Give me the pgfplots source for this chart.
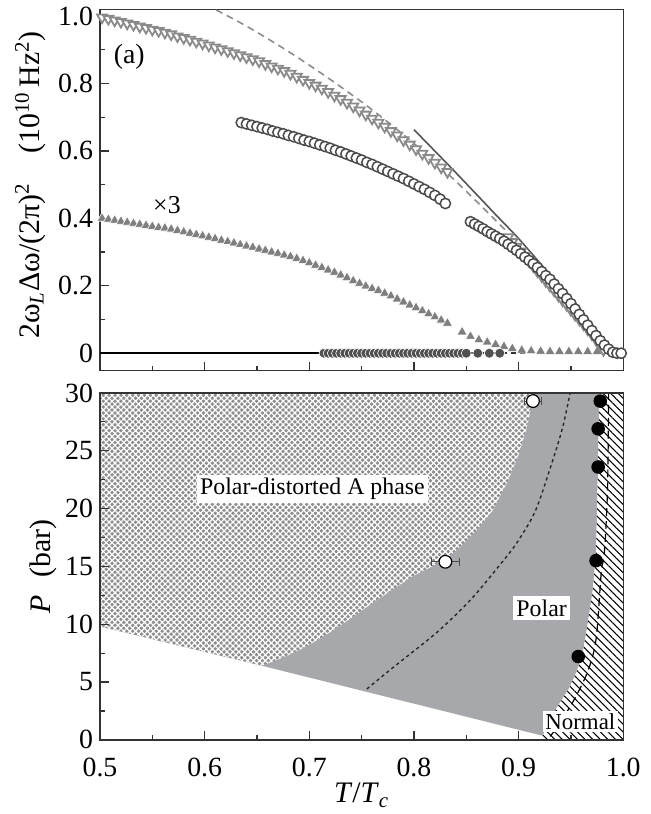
\documentclass[border=0pt]{standalone}
\usepackage{pgfplots}
\pgfplotsset{compat=1.18}
\usepackage{fontspec}
\setmainfont{Liberation Serif}
\usetikzlibrary{patterns,patterns.meta}

\definecolor{trig}{HTML}{8A8A8A}
\definecolor{circ}{HTML}{4A4A4A}
\definecolor{fitl}{HTML}{555555}
\definecolor{dashg}{HTML}{8C8C8C}
\definecolor{ftri}{HTML}{7F7F7F}
\definecolor{dcirc}{HTML}{505050}
\definecolor{polar}{HTML}{A7A8AB}
\definecolor{hatchbase}{HTML}{8E8E8E}

\pgfplotsset{
  phase/.style={
    scale only axis, width=263.5pt,
    xmin=0.5, xmax=1.0,
    xtick={0.5,0.6,0.7,0.8,0.9,1.0},
    minor x tick num=1,
    tick align=inside,
    xtick pos=left, ytick pos=left,
    major tick length=4.5pt, minor tick length=2.5pt,
    axis line style={line width=0.7pt, black!80},
    every tick/.style={black!80, line width=0.6pt},
    tick label style={font=\fontsize{14}{16}\selectfont},
    xticklabel style={yshift=-5.5pt},
    /pgf/number format/assume math mode=true,
  }
}

\begin{document}
\begin{tikzpicture}

% ---------- bottom: phase diagram ----------
\begin{axis}[phase,
    name=bot, at={(0,0)}, anchor=south west,
    height=174.65pt,
    ymin=0, ymax=30,
    ytick={0,5,10,15,20,25,30},
    minor y tick num=1,
    xticklabels={0.5,0.6,0.7,0.8,0.9,1.0},
    axis on top,
    xlabel={\textit{T}/\textit{T}\textsubscript{\textit{c}}},
    ylabel={\textit{P}\hspace{0.6em}(bar)},
    xlabel style={at={(axis description cs:0.5,-0.16)}, anchor=center,
      font=\fontsize{15}{17}\selectfont},
    ylabel style={at={(axis description cs:-0.108,0.5)}, rotate=0, anchor=center,
      font=\fontsize{15}{17}\selectfont},
  ]
  % polar-distorted A phase (crosshatch)
  \addplot[draw=none, fill=hatchbase,
      postaction={pattern={Hatch[angle=45,distance=2.1pt,line width=0.6pt]}, pattern color=white}]
    coordinates {(0.5,30) (0.5,9.8) (0.655,6.4) (0.68,7.3) (0.70,8.2) (0.72,9.3)
      (0.74,10.5) (0.76,11.8) (0.78,13.0) (0.80,14.2) (0.82,15.1) (0.83,15.6)
      (0.84,16.3) (0.86,18.1) (0.875,19.8) (0.89,22.4) (0.90,24.6) (0.908,27.0)
      (0.915,30)} -- cycle;
  % polar phase
  \addplot[draw=none, fill=polar]
    coordinates {(0.655,6.4) (0.68,7.3) (0.70,8.2) (0.72,9.3)
      (0.74,10.5) (0.76,11.8) (0.78,13.0) (0.80,14.2) (0.82,15.1) (0.83,15.6)
      (0.84,16.3) (0.86,18.1) (0.875,19.8) (0.89,22.4) (0.90,24.6) (0.908,27.0)
      (0.915,30) (0.977,30) (0.976,24.0) (0.974,16.2) (0.971,13.0) (0.966,10.0)
      (0.961,7.3) (0.955,5.8) (0.948,4.4) (0.936,2.7) (0.923,0.35)} -- cycle;
  % normal phase (hatched)
  \addplot[draw=none, fill=white,
      postaction={pattern={Lines[angle=-45,distance=2.7pt,line width=0.55pt]}, pattern color=black}]
    coordinates {(0.923,0) (0.923,0.35) (0.936,2.7) (0.948,4.4) (0.955,5.8)
      (0.961,7.3) (0.966,10.0) (0.971,13.0) (0.974,16.2) (0.976,24.0) (0.977,30)
      (1.0,30) (1.0,0)} -- cycle;
  % dashed line in normal phase
  \addplot[black, line width=0.6pt, dash pattern=on 4pt off 2.5pt, smooth]
    coordinates {(0.930,0.3) (0.936,1.0) (0.952,3.3) (0.966,5.9) (0.974,8.7)
      (0.979,14.5) (0.982,16.2) (0.985,21.8) (0.986,30)};
  % dashed line in polar phase
  \addplot[black!85, line width=0.7pt, dash pattern=on 1.6pt off 1.6pt, smooth]
    coordinates {(0.755,4.4) (0.782,6.4) (0.822,9.3) (0.854,12.1) (0.88,14.9)
      (0.898,17.0) (0.916,19.8) (0.932,24.0) (0.942,27.0) (0.949,29.9)};
  % PdA-polar transition points
  \addplot[only marks, mark=*, mark size=3.2pt,
      mark options={fill=white, draw=black, line width=0.6pt},
      error bars/.cd, x dir=both, x explicit,
      error bar style={black!70, line width=0.5pt},
      error mark options={rotate=90, mark size=2pt, black!70}]
    coordinates {(0.830,15.4) +- (0.013,0) (0.9137,29.3) +- (0.008,0)};
  % normal-polar transition points
  \addplot[only marks, mark=*, mark size=3.2pt, mark options={fill=black, draw=black}]
    coordinates {(0.978,29.3) (0.976,26.9) (0.976,23.6) (0.974,15.5) (0.957,7.2)};

  \node[fill=white, inner sep=1.6pt, font=\fontsize{12}{14}\selectfont]
    at (axis cs:0.703,21.7) {Polar-distorted A phase};
  \node[fill=white, inner sep=1.6pt, font=\fontsize{12}{14}\selectfont]
    at (axis cs:0.922,11.4) {Polar};
  \node[fill=white, inner sep=1.2pt, font=\fontsize{11.5}{13}\selectfont]
    at (axis cs:0.959,1.55) {Normal};
\end{axis}

% ---------- top: frequency shift ----------
\begin{axis}[phase,
    at={(0,185.85pt)}, anchor=south west,
    height=182pt,
    ymin=-0.052, ymax=1.02,
    ytick={0,0.2,0.4,0.6,0.8,1.0},
    yticklabels={0,0.2,0.4,0.6,0.8,1.0},
    minor y tick num=1,
    xticklabels={},
    ylabel={2ω\textsubscript{\textit{L}}Δω/(2π)\textsuperscript{2}\hspace{1em}(10\textsuperscript{10}\,Hz\textsuperscript{2})},
    ylabel style={at={(axis description cs:-0.133,0.514)}, rotate=0, anchor=center,
      font=\fontsize{15}{17}\selectfont},
  ]
  % zero line
  \addplot[black, line width=1.2pt] coordinates {(0.5,0) (0.712,0)};
  \addplot[black!80, line width=1pt, dash pattern=on 3pt off 2pt] coordinates {(0.712,0) (0.906,0)};

  % dashed gray guide
  \addplot[dashg, line width=0.8pt, dash pattern=on 3.5pt off 2.5pt, smooth]
    coordinates {(0.611,1.018) (0.640,0.970) (0.680,0.895) (0.720,0.812)
      (0.760,0.722) (0.800,0.622) (0.840,0.510) (0.880,0.388) (0.890,0.356)};

  % filled gray triangles (x3)
  \addplot[only marks, mark=triangle*, mark size=2.9pt,
      mark options={fill=ftri, draw=white, line width=0.3pt}]
    coordinates {
      (0.502,0.400) (0.508,0.397) (0.514,0.394) (0.520,0.391) (0.526,0.388)
      (0.532,0.385) (0.538,0.382) (0.544,0.379) (0.550,0.376) (0.556,0.373)
      (0.562,0.371) (0.568,0.368) (0.574,0.364) (0.580,0.360) (0.586,0.356)
      (0.592,0.352) (0.598,0.348) (0.604,0.344) (0.610,0.340) (0.616,0.335)
      (0.622,0.331) (0.628,0.327) (0.634,0.322) (0.640,0.318) (0.646,0.314)
      (0.652,0.309) (0.658,0.305) (0.664,0.300) (0.670,0.296) (0.676,0.291)
      (0.682,0.287) (0.688,0.281) (0.694,0.275) (0.700,0.268) (0.706,0.261)
      (0.712,0.254) (0.718,0.247) (0.724,0.240) (0.730,0.232) (0.736,0.224)
      (0.742,0.215) (0.748,0.207) (0.754,0.199) (0.760,0.192) (0.766,0.186)
      (0.772,0.178) (0.778,0.170) (0.784,0.161) (0.790,0.152) (0.796,0.143)
      (0.802,0.135) (0.808,0.126) (0.814,0.117) (0.820,0.108) (0.826,0.098)
      (0.832,0.089)
      (0.846,0.063) (0.854,0.050) (0.862,0.040) (0.870,0.033) (0.878,0.026)
      (0.886,0.020) (0.894,0.014) (0.903,0.009) (0.912,0.007) (0.921,0.006)
      (0.930,0.005) (0.939,0.005) (0.948,0.005) (0.957,0.005) (0.966,0.005)
      (0.975,0.005)};

  % dark filled circles on zero
  \addplot[only marks, mark=*, mark size=2.5pt,
      mark options={fill=dcirc, draw=white, line width=0.3pt}]
    coordinates {
      (0.714,0) (0.718,0) (0.722,0) (0.726,0) (0.730,0) (0.734,0) (0.738,0)
      (0.742,0) (0.746,0) (0.750,0) (0.754,0) (0.758,0) (0.762,0) (0.766,0)
      (0.770,0) (0.774,0) (0.778,0) (0.782,0) (0.786,0) (0.790,0) (0.794,0)
      (0.798,0) (0.802,0) (0.806,0) (0.810,0) (0.814,0) (0.818,0) (0.822,0)
      (0.826,0) (0.830,0) (0.834,0) (0.838,0) (0.842,0) (0.846,0) (0.850,0)
      (0.861,0) (0.872,0) (0.882,0)};

  % open triangles
  \addplot[only marks, mark=triangle*, mark size=2.9pt,
      mark options={rotate=180, fill=white, draw=trig, line width=0.9pt}]
    coordinates {
      (0.502,0.996) (0.508,0.992) (0.514,0.987) (0.520,0.983) (0.526,0.978)
      (0.532,0.974) (0.538,0.969) (0.544,0.965) (0.550,0.960) (0.556,0.956)
      (0.562,0.951) (0.568,0.946) (0.574,0.940) (0.580,0.935) (0.586,0.930)
      (0.592,0.924) (0.598,0.919) (0.604,0.913) (0.610,0.907) (0.616,0.902)
      (0.622,0.896) (0.628,0.890) (0.634,0.884) (0.640,0.878) (0.646,0.872)
      (0.652,0.866) (0.658,0.858) (0.664,0.851) (0.670,0.844) (0.676,0.837)
      (0.682,0.829) (0.688,0.820) (0.694,0.811) (0.700,0.802) (0.706,0.794)
      (0.712,0.785) (0.718,0.775) (0.724,0.764) (0.730,0.754) (0.736,0.743)
      (0.742,0.732) (0.748,0.720) (0.754,0.708) (0.760,0.696) (0.766,0.684)
      (0.772,0.672) (0.778,0.659) (0.784,0.646) (0.790,0.632) (0.796,0.619)
      (0.802,0.605) (0.808,0.592) (0.814,0.579) (0.820,0.565) (0.826,0.551)
      (0.832,0.538)};
  \addplot[only marks, mark=triangle*, mark size=2.9pt,
      mark options={rotate=180, fill=white, draw=trig, line width=0.9pt}]
    coordinates {
      (0.890,0.344) (0.894,0.330) (0.898,0.316) (0.902,0.302) (0.906,0.288)
      (0.910,0.273) (0.914,0.258) (0.918,0.243) (0.922,0.229) (0.926,0.214)
      (0.930,0.200) (0.934,0.186) (0.938,0.171) (0.942,0.157) (0.946,0.143)
      (0.950,0.128) (0.954,0.114) (0.958,0.100) (0.962,0.086) (0.966,0.071)
      (0.970,0.056) (0.974,0.040) (0.978,0.022) (0.981,0.010)};

  % open circles
  \addplot[only marks, mark=*, mark size=2.6pt,
      mark options={fill=white, draw=circ, line width=0.75pt}]
    coordinates {
      (0.635,0.684) (0.640,0.680) (0.645,0.676) (0.650,0.672) (0.655,0.668)
      (0.660,0.664) (0.665,0.659) (0.670,0.655) (0.675,0.651) (0.680,0.646)
      (0.685,0.642) (0.690,0.637) (0.695,0.632) (0.700,0.628) (0.705,0.623)
      (0.710,0.618) (0.715,0.613) (0.720,0.608) (0.725,0.602) (0.730,0.597)
      (0.735,0.591) (0.740,0.585) (0.745,0.579) (0.750,0.573) (0.755,0.566)
      (0.760,0.560) (0.765,0.553) (0.770,0.546) (0.775,0.539) (0.780,0.532)
      (0.785,0.525) (0.790,0.518) (0.795,0.510) (0.800,0.502) (0.805,0.494)
      (0.810,0.486) (0.815,0.477) (0.820,0.468) (0.825,0.457) (0.830,0.444)};
  \addplot[only marks, mark=*, mark size=2.6pt,
      mark options={fill=white, draw=circ, line width=0.75pt}]
    coordinates {
      (0.854,0.390) (0.858,0.383) (0.862,0.376) (0.866,0.369) (0.870,0.361)
      (0.874,0.354) (0.878,0.347) (0.882,0.340) (0.886,0.332) (0.890,0.323)
      (0.894,0.314) (0.898,0.305) (0.902,0.295) (0.906,0.285) (0.910,0.275)
      (0.914,0.265) (0.918,0.254) (0.922,0.242) (0.926,0.230) (0.930,0.219)
      (0.934,0.205) (0.938,0.191) (0.942,0.177) (0.946,0.162) (0.950,0.147)
      (0.954,0.131) (0.958,0.115) (0.962,0.099) (0.966,0.083) (0.970,0.067)
      (0.974,0.052) (0.978,0.037) (0.982,0.024) (0.986,0.012) (0.990,0.003)
      (0.994,0.000) (0.998,0.000)};

  % solid guide
  \addplot[fitl, line width=0.8pt, smooth]
    coordinates {(0.800,0.663) (0.828,0.574) (0.850,0.503) (0.879,0.408)
      (0.900,0.340) (0.926,0.247) (0.950,0.158) (0.970,0.080) (0.986,0.022)
      (0.991,0.0)};

  \node[font=\fontsize{14}{16}\selectfont] at (axis cs:0.528,0.878) {(a)};
  \node[font=\fontsize{13}{15}\selectfont] at (axis cs:0.564,0.438) {×3};
\end{axis}

\path (-50.35pt,-34.5pt) rectangle (277.15pt,372.5pt);
\end{tikzpicture}
\end{document}
